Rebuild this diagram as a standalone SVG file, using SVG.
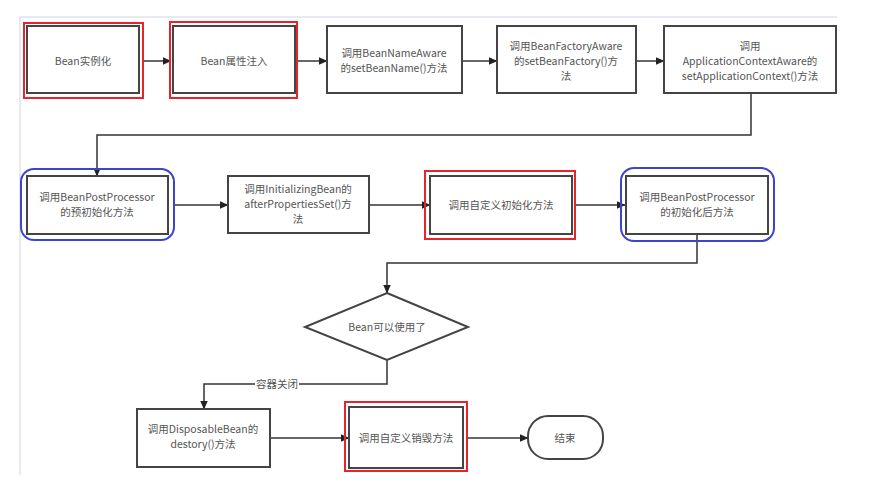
<svg xmlns="http://www.w3.org/2000/svg" width="896" height="491" viewBox="0 0 896 491">
<defs>
<marker id="ah" markerWidth="9" markerHeight="8" refX="8.5" refY="4" orient="auto" markerUnits="userSpaceOnUse">
<path d="M0,0 L9,4 L0,8 Z" fill="#222"/>
</marker>
<style>
.box{fill:#fff;stroke:#444;stroke-width:2}
.red{fill:none;stroke:#e8232b;stroke-width:2}
.blue{fill:none;stroke:#3b44cc;stroke-width:2}
.t{font-family:"Noto Sans CJK SC","Noto Sans",sans-serif;font-size:10.5px;fill:#555;text-anchor:middle}
.c{fill:none;stroke:#333;stroke-width:1.5}
.frame{fill:none;stroke:#dfe4ee;stroke-width:1.5}
</style>
</defs>
<rect width="896" height="491" fill="#fff"/>
<path class="frame" d="M837,17 H20 V475"/>
<g id="connectors">
<line class="c" x1="143" y1="61" x2="171" y2="61" marker-end="url(#ah)"/>
<line class="c" x1="297" y1="61" x2="327" y2="61" marker-end="url(#ah)"/>
<line class="c" x1="462" y1="61" x2="497" y2="61" marker-end="url(#ah)"/>
<line class="c" x1="636" y1="61" x2="664" y2="61" marker-end="url(#ah)"/>
<path class="c" d="M751,93 V135 H97 V176" marker-end="url(#ah)"/>
<line class="c" x1="174" y1="205" x2="228" y2="205" marker-end="url(#ah)"/>
<line class="c" x1="369" y1="205" x2="430" y2="205" marker-end="url(#ah)"/>
<line class="c" x1="575" y1="205" x2="625" y2="205" marker-end="url(#ah)"/>
<path class="c" d="M697,234 V263 H387 V293" marker-end="url(#ah)"/>
<path class="c" d="M387,360 V384 H204 V409" marker-end="url(#ah)"/>
<rect x="255" y="377" width="44" height="14" fill="#fff"/>
<text class="t" x="277" y="388">容器关闭</text>
<line class="c" x1="270" y1="438" x2="349" y2="438" marker-end="url(#ah)"/>
<line class="c" x1="467" y1="438" x2="528" y2="438" marker-end="url(#ah)"/>
</g>
<g id="n1">
<rect class="red" x="24" y="23" width="119" height="75"/>
<rect class="box" x="27" y="26" width="112" height="67"/>
<text class="t" x="83" y="65">Bean实例化</text>
</g>
<g id="n2">
<rect class="red" x="170" y="22" width="127" height="76"/>
<rect class="box" x="173" y="26" width="122" height="67"/>
<text class="t" x="234" y="65">Bean属性注入</text>
</g>
<g id="n3">
<rect class="box" x="327" y="26" width="135" height="67"/>
<text class="t" x="394" y="57">调用BeanNameAware</text>
<text class="t" x="394" y="72">的setBeanName()方法</text>
</g>
<g id="n4">
<rect class="box" x="497" y="26" width="139" height="67"/>
<text class="t" x="566" y="50">调用BeanFactoryAware</text>
<text class="t" x="566" y="65">的setBeanFactory()方</text>
<text class="t" x="566" y="80">法</text>
</g>
<g id="n5">
<rect class="box" x="664" y="26" width="172" height="67"/>
<text class="t" x="750" y="50">调用</text>
<text class="t" x="750" y="65">ApplicationContextAware的</text>
<text class="t" x="750" y="80">setApplicationContext()方法</text>
</g>
<g id="n6">
<rect class="blue" x="21" y="169" width="153" height="71" rx="13"/>
<rect class="box" x="27" y="176" width="141" height="58"/>
<text class="t" x="97" y="201">调用BeanPostProcessor</text>
<text class="t" x="97" y="216">的预初始化方法</text>
</g>
<g id="n7">
<rect class="box" x="228" y="176" width="141" height="57"/>
<text class="t" x="298" y="193">调用InitializingBean的</text>
<text class="t" x="298" y="208">afterPropertiesSet()方</text>
<text class="t" x="298" y="223">法</text>
</g>
<g id="n8">
<rect class="red" x="425" y="171" width="150" height="68"/>
<rect class="box" x="430" y="176" width="142" height="58"/>
<text class="t" x="501" y="209">调用自定义初始化方法</text>
</g>
<g id="n9">
<rect class="blue" x="621" y="168" width="153" height="73" rx="13"/>
<rect class="box" x="626" y="176" width="142" height="58"/>
<text class="t" x="697" y="201">调用BeanPostProcessor</text>
<text class="t" x="697" y="216">的初始化后方法</text>
</g>
<g id="n10">
<path class="box" d="M387,293 L468,327 L387,360 L305,327 Z"/>
<text class="t" x="387" y="331">Bean可以使用了</text>
</g>
<g id="n11">
<rect class="box" x="137" y="409" width="133" height="58"/>
<text class="t" x="203" y="433">调用DisposableBean的</text>
<text class="t" x="203" y="448">destory()方法</text>
</g>
<g id="n12">
<rect class="red" x="345" y="402" width="122" height="69"/>
<rect class="box" x="349" y="407" width="114" height="61"/>
<text class="t" x="406" y="442">调用自定义销毁方法</text>
</g>
<g id="n13">
<rect class="box" x="528" y="416" width="75" height="43" rx="20"/>
<text class="t" x="565" y="442">结束</text>
</g>
</svg>
